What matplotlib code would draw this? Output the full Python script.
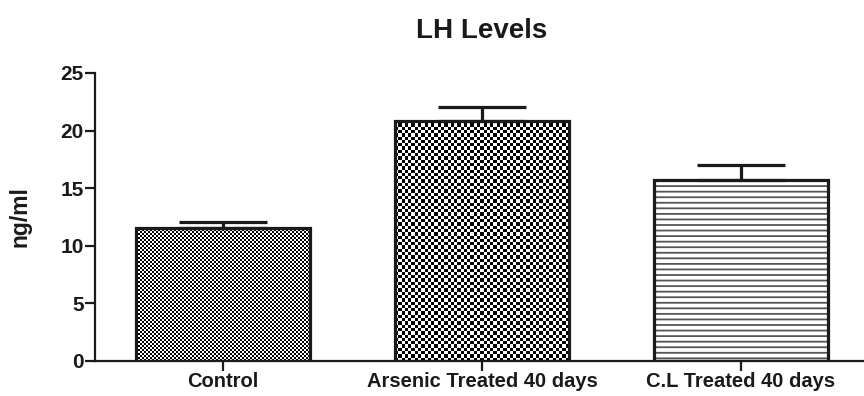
import numpy as np
import matplotlib.pyplot as plt

groups = ["Control", "Arsenic Treated 40 days", "C.L Treated 40 days"]
means = [11.55, 20.85, 15.7]
sem = [0.5, 1.2, 1.35]
yticks = [0, 5, 10, 15, 20, 25]

plt.rcParams['font.family'] = ['Liberation Sans', 'DejaVu Sans']
plt.rcParams['font.weight'] = 'bold'
plt.rcParams['hatch.linewidth'] = 1.3

fig = plt.figure(figsize=(8.64, 3.96), dpi=100)
# axes box placed to match the reference pixels
ax = fig.add_axes([95 / 864, 35 / 396, 769 / 864, 288 / 396])
xlim = (-0.494, 2.475)
ylim = (0, 25)
px_x = 769 / (xlim[1] - xlim[0])
px_y = 288 / (ylim[1] - ylim[0])

x = np.arange(len(groups))
bars = ax.bar(x, means, width=0.67, facecolor='none', edgecolor='#1a1a1a',
              linewidth=2.3, zorder=3)


def checker(bar, cell_px):
    # checkerboard texture clipped to the bar
    x0, w, h = bar.get_x(), bar.get_width(), bar.get_height()
    nx = max(1, int(round(w * px_x / cell_px)))
    ny = max(1, int(round(h * px_y / cell_px)))
    img = np.indices((ny, nx)).sum(axis=0) % 2
    im = ax.imshow(img, cmap='gray', vmin=0, vmax=1, extent=(x0, x0 + w, 0, h),
                   interpolation='nearest', aspect='auto', zorder=2)
    im.set_clip_path(bar)


checker(bars[0], 2)
checker(bars[1], 3.3)
ax.bar(x[2], means[2], width=0.67, facecolor='white', edgecolor='#555555',
       linewidth=0, hatch='---', zorder=2)

ax.errorbar(x, means, yerr=[np.zeros(len(sem)), sem], fmt='none',
            ecolor='#1a1a1a', elinewidth=2.3, capsize=32, capthick=2.3, zorder=4)

ax.set_xlim(*xlim)
ax.set_ylim(*ylim)
ax.set_yticks(yticks)
ax.set_xticks(x)
ax.set_xticklabels(groups, fontsize=14.5, fontweight='bold')
ax.tick_params(axis='y', labelsize=15, direction='out', length=7, width=1.6, pad=1,
               colors='#1a1a1a')
ax.tick_params(axis='x', direction='out', length=7, width=1.6, pad=1,
               colors='#1a1a1a')
for s in ['top', 'right']:
    ax.spines[s].set_visible(False)
for s in ['left', 'bottom']:
    ax.spines[s].set_linewidth(1.6)
    ax.spines[s].set_color('#1a1a1a')

ax.set_ylabel("ng/ml", fontsize=16.5, fontweight='bold', color='#1a1a1a')
ax.yaxis.set_label_coords(-0.082, 0.5)
fig.text(482 / 864, 1 - 38 / 396, "LH Levels", fontsize=20, fontweight='bold',
         ha='center', va='baseline', color='#1a1a1a')

fig.savefig("out.png", dpi=100)
